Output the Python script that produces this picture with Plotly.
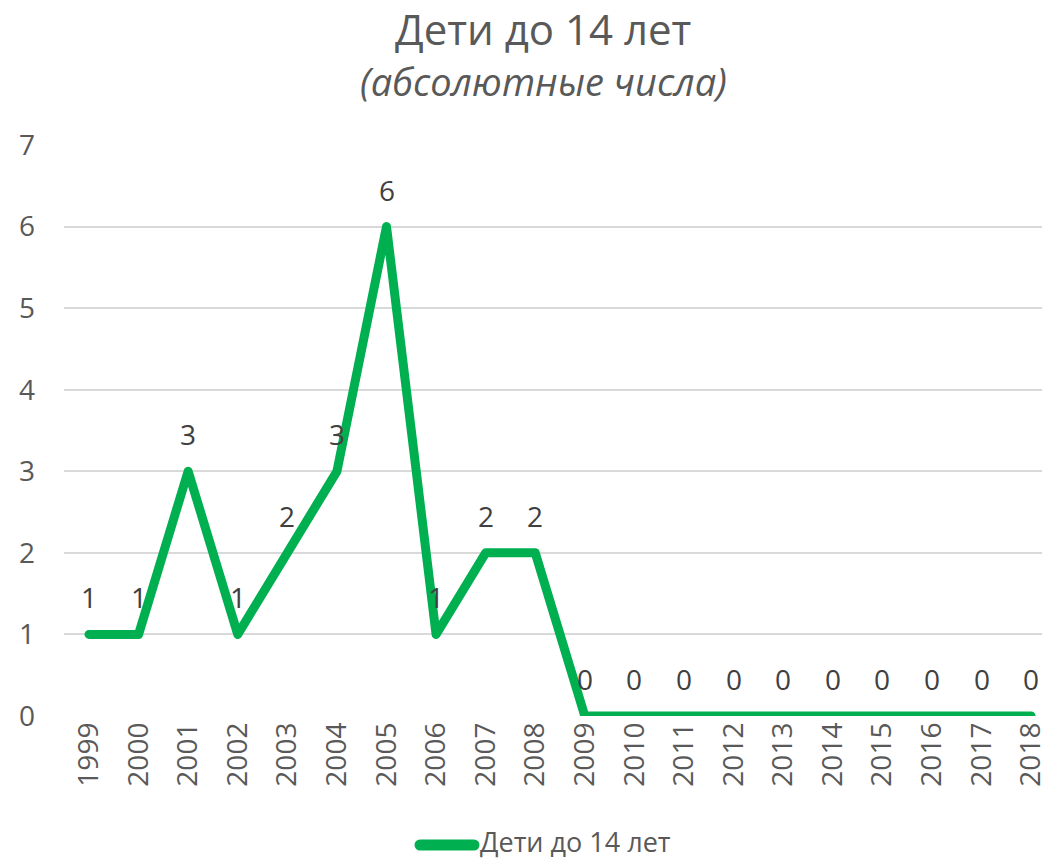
import plotly.graph_objects as go

years = [str(y) for y in range(1999, 2019)]
values = [1, 1, 3, 1, 2, 3, 6, 1, 2, 2, 0, 0, 0, 0, 0, 0, 0, 0, 0, 0]
series_name = "Дети до 14 лет"
title_text = "Дети до 14 лет"
subtitle_text = "(абсолютные числа)"

GREEN = "#00B050"
W, H = 1042, 860
L, R, T = 64, 0, 145
B = H - 716
pw = W - L - R
ph = H - T - B

def px_x(px):
    return (px - L) / pw

def px_y(py):
    return (H - B - py) / ph

fig = go.Figure()
fig.add_trace(go.Scatter(
    x=years, y=values, mode="lines", name=series_name,
    line=dict(color=GREEN, width=9),
    cliponaxis=False, showlegend=False,
))

for i, v in enumerate(values):
    fig.add_annotation(x=i, y=v, text=str(v), showarrow=False, yshift=37,
                       font=dict(family="Open Sans", size=28, color="#404040"))

cx = px_x(543)
fig.add_annotation(xref="paper", yref="paper", x=cx, y=px_y(29),
                   text=title_text, showarrow=False, yanchor="middle",
                   font=dict(family="Open Sans", size=42, color="#595959"))
fig.add_annotation(xref="paper", yref="paper", x=cx, y=px_y(81),
                   text="<i>" + subtitle_text + "</i>", showarrow=False, yanchor="middle",
                   font=dict(family="Open Sans", size=38, color="#595959"))

# legend (sample line + label)
fig.add_shape(type="line", xref="paper", yref="paper",
              x0=px_x(420), x1=px_x(474), y0=px_y(845), y1=px_y(845),
              line=dict(color=GREEN, width=11))
fig.add_annotation(xref="paper", yref="paper", x=px_x(478), y=px_y(841),
                   text=series_name, showarrow=False, xanchor="left", yanchor="middle",
                   font=dict(family="Open Sans", size=27, color="#595959"))

fig.update_layout(
    width=W, height=H,
    margin=dict(l=L, r=R, t=T, b=B, autoexpand=False),
    paper_bgcolor="white", plot_bgcolor="white",
    showlegend=False,
    xaxis=dict(type="category", range=[-0.504, 19.22], tickangle=-90,
               showgrid=False, showline=False, ticks="", automargin=False,
               tickfont=dict(family="Open Sans", size=28, color="#595959")),
    yaxis=dict(range=[0, 7], dtick=1, showgrid=True, gridcolor="#D9D9D9", gridwidth=1.5,
               zeroline=False, showline=False, ticks="", ticklabelstandoff=28, automargin=False,
               tickfont=dict(family="Open Sans", size=28, color="#595959")),
)

post = """
document.body.style.margin = '0';
document.body.style.overflow = 'hidden';
document.querySelectorAll('.scatterlayer path.js-line').forEach(function(p){
  p.style.strokeLinejoin = 'round'; p.style.strokeLinecap = 'round';
});
document.querySelectorAll('.shapelayer path').forEach(function(p){
  p.style.strokeLinecap = 'round';
});
"""
fig.write_html("out.html", post_script=post, config={"displayModeBar": False})
